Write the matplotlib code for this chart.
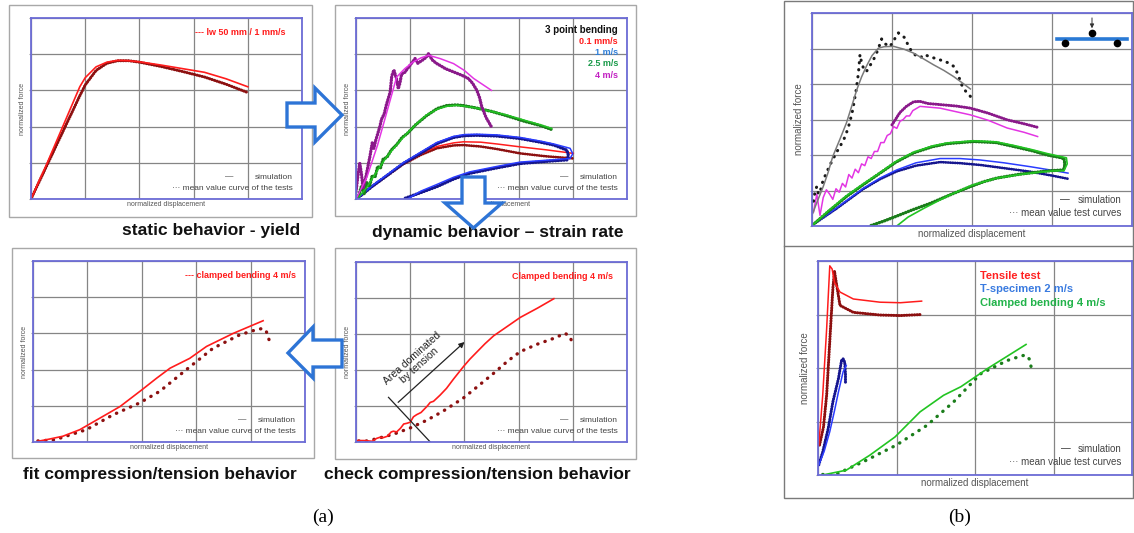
import numpy as np
import matplotlib
matplotlib.use("Agg")
import matplotlib.pyplot as plt
from matplotlib.patches import Polygon, Rectangle

W, H = 1134, 533

# ---- data (normalized units) ----
# (a) top left: static behaviour
a1_x = [0, 0.3, 0.6, 0.9, 1.0, 1.2, 1.4, 1.6, 1.8, 2.0, 2.4, 2.8, 3.2, 3.6, 4.0]
a1_sim = [0, 1.0, 2.05, 3.1, 3.35, 3.65, 3.78, 3.83, 3.82, 3.79, 3.7, 3.6, 3.5, 3.32, 3.1]
a1_test = [0, 0.95, 1.9, 2.85, 3.15, 3.55, 3.75, 3.82, 3.82, 3.78, 3.66, 3.52, 3.37, 3.17, 2.94]

# (a) top right: 3 point bending at several rates
a2_mag_x = [0, 0.2, 0.4, 0.55, 0.75, 0.9, 1.06, 1.2, 1.34, 1.55, 1.8, 2.0, 2.17, 2.35, 2.5]
a2_mag_y = [0, 0.6, 1.5, 2.3, 3.37, 3.6, 3.79, 3.9, 3.97, 3.88, 3.74, 3.55, 3.33, 3.15, 3.0]
a2_pur_x = [0, 0.04, 0.07, 0.1, 0.13, 0.18, 0.22, 0.26, 0.3, 0.33, 0.36, 0.4, 0.44, 0.47,
            0.52, 0.56, 0.6, 0.63, 0.66, 0.7, 0.75, 0.78, 0.81, 0.84, 0.9, 0.95, 1.0, 1.05,
            1.09, 1.14, 1.18, 1.24, 1.3, 1.34, 1.4, 1.48, 1.55, 1.65, 1.8, 1.95, 2.07, 2.15,
            2.23, 2.28, 2.32, 2.4, 2.5]
a2_pur_y = [0.2, 0.7, 0.98, 0.7, 0.3, 0.6, 0.9, 1.2, 1.55, 1.4, 1.6, 1.8, 2.0, 2.2,
            2.35, 2.6, 2.8, 2.95, 3.4, 3.56, 3.3, 3.05, 3.2, 3.45, 3.5, 3.6, 3.7, 3.8,
            3.88, 3.75, 3.79, 3.85, 3.92, 4.02, 3.85, 3.75, 3.69, 3.6, 3.51, 3.42, 3.33, 3.2,
            3.0, 2.8, 2.55, 2.25, 1.99]
a2_gsim_x = [0.05, 0.2, 0.4, 0.57, 0.75, 0.94, 1.1, 1.3, 1.5, 1.67, 1.85, 1.98, 2.2, 2.5,
             2.78, 3.1, 3.4, 3.61]
a2_gsim_y = [0.05, 0.32, 0.8, 1.17, 1.5, 1.81, 2.05, 2.32, 2.48, 2.56, 2.59, 2.57, 2.52, 2.42,
             2.32, 2.18, 2.05, 1.95]
a2_gtest_x = [0.05, 0.1, 0.15, 0.2, 0.25, 0.3, 0.35, 0.4, 0.45, 0.5, 0.57, 0.65, 0.75, 0.85,
              0.94, 1.1, 1.3, 1.5, 1.67, 1.85, 1.98, 2.2, 2.5, 2.78, 3.1, 3.4, 3.61]
a2_gtest_y = [0.1, 0.35, 0.15, 0.45, 0.35, 0.65, 0.6, 0.9, 0.85, 1.1, 1.15, 1.35, 1.5, 1.7,
              1.8, 2.05, 2.3, 2.5, 2.58, 2.6, 2.58, 2.52, 2.42, 2.3, 2.15, 2.03, 1.92]
a2_btest_x = [0.05, 0.3, 0.6, 0.87, 1.2, 1.49, 1.8, 2.0, 2.23, 2.6, 3.03, 3.4, 3.65, 3.89,
              3.92, 3.89, 3.6, 3.03, 2.6, 2.1, 1.8, 1.49, 1.2, 0.87]
a2_btest_y = [0.05, 0.35, 0.68, 0.98, 1.27, 1.53, 1.7, 1.75, 1.76, 1.74, 1.67, 1.57, 1.49, 1.35,
              1.2, 1.08, 1.05, 0.98, 0.86, 0.71, 0.55, 0.34, 0.18, 0.0]
a2_bsim_x = [0.05, 0.3, 0.6, 0.87, 1.2, 1.49, 1.8, 2.0, 2.23, 2.6, 3.03, 3.4, 3.65, 3.95,
             4.0, 3.95, 3.6, 3.03, 2.6, 2.1, 1.8, 1.49, 1.2, 0.95]
a2_bsim_y = [0.05, 0.37, 0.7, 1.0, 1.3, 1.56, 1.73, 1.78, 1.79, 1.77, 1.7, 1.6, 1.52, 1.4,
             1.25, 1.12, 1.08, 1.02, 0.9, 0.75, 0.6, 0.4, 0.22, 0.0]
a2_red_x = [0.05, 0.3, 0.6, 0.87, 1.2, 1.49, 1.8, 1.98, 2.3, 2.6, 3.03, 3.5, 4.01]
a2_rsim_y = [0.05, 0.35, 0.68, 0.98, 1.25, 1.45, 1.55, 1.58, 1.57, 1.52, 1.44, 1.36, 1.26]
a2_rtest_y = [0.05, 0.35, 0.67, 0.96, 1.22, 1.4, 1.48, 1.49, 1.45, 1.38, 1.26, 1.18, 1.12]
a2_labels = ["3 point bending", "0.1 mm/s", "1 m/s", "2.5 m/s", "4 m/s"]

# (a) bottom left: fitted clamped bending
a3_sim_x = [0.09, 0.3, 0.55, 0.86, 1.23, 1.6, 2.0, 2.27, 2.52, 2.88, 3.19, 3.68, 4.23]
a3_sim_y = [0.02, 0.08, 0.16, 0.34, 0.66, 0.98, 1.44, 1.76, 2.04, 2.31, 2.64, 3.0, 3.35]
a3_test_x = [0.09, 0.4, 0.98, 1.47, 1.96, 2.33, 2.82, 3.31, 3.8, 4.1, 4.23, 4.29, 4.34]
a3_test_y = [0.03, 0.06, 0.34, 0.75, 1.08, 1.4, 2.0, 2.59, 2.96, 3.1, 3.14, 3.05, 2.82]

# (a) bottom right: first check of clamped bending
a4_sim_x = [0.02, 0.15, 0.3, 0.38, 0.44, 0.5, 0.58, 0.65, 0.69, 0.75, 0.82, 0.88, 0.94, 1.0,
            1.06, 1.12, 1.2, 1.31, 1.37, 1.43, 1.55, 1.67, 1.8, 1.98, 2.1, 2.23, 2.38, 2.54,
            2.8, 3.03, 3.35, 3.65]
a4_sim_y = [0.04, 0.04, 0.02, 0.1, 0.13, 0.12, 0.16, 0.28, 0.3, 0.28, 0.38, 0.5, 0.52, 0.55,
            0.7, 0.76, 0.82, 0.99, 1.1, 1.13, 1.3, 1.49, 1.75, 2.09, 2.3, 2.5, 2.73, 2.95,
            3.22, 3.46, 3.72, 3.98]
a4_test_x = [0.05, 0.2, 0.35, 0.5, 0.7, 1.0, 1.3, 1.6, 1.98, 2.25, 2.54, 2.8, 3.03, 3.35,
             3.65, 3.86, 3.95, 4.0]
a4_test_y = [0.03, 0.03, 0.08, 0.14, 0.22, 0.39, 0.6, 0.85, 1.22, 1.55, 1.91, 2.25, 2.51, 2.72,
             2.88, 3.02, 2.92, 2.71]

# (b) top: 3 point bending
b1_gsim_x = [0.01, 0.05, 0.14, 0.2, 0.26, 0.35, 0.43, 0.5, 0.56, 0.62, 0.68, 0.75, 0.83, 0.9,
             1.02, 1.15, 1.27, 1.4, 1.52, 1.65, 1.77, 1.88, 1.98]
b1_gsim_y = [0.36, 0.6, 1.11, 1.5, 1.96, 2.45, 2.9, 3.4, 3.84, 4.2, 4.5, 4.8, 5.01, 5.05,
             5.06, 4.98, 4.87, 4.7, 4.54, 4.38, 4.21, 4.03, 3.86]
b1_ktest_x = [0.02, 0.04, 0.06, 0.08, 0.1, 0.14, 0.18, 0.22, 0.26, 0.3, 0.35, 0.4, 0.43, 0.47,
              0.51, 0.55, 0.58, 0.6, 0.62, 0.65, 0.68, 0.72, 0.76, 0.79, 0.83, 0.87, 0.9, 0.93,
              0.97, 1.02, 1.05, 1.08, 1.12, 1.16, 1.2, 1.25, 1.31, 1.36, 1.4, 1.5, 1.6, 1.7,
              1.77, 1.82, 1.87, 1.92, 1.98]
b1_ktest_y = [0.7, 1.0, 1.11, 0.9, 0.95, 1.3, 1.49, 1.7, 1.87, 2.05, 2.24, 2.45, 2.62, 2.9,
              3.28, 3.8, 4.3, 4.83, 4.6, 4.4, 4.35, 4.5, 4.65, 4.78, 5.0, 5.27, 5.15, 5.11,
              5.05, 5.2, 5.35, 5.44, 5.38, 5.3, 5.1, 4.9, 4.78, 4.75, 4.83, 4.75, 4.68, 4.6,
              4.5, 4.3, 3.98, 3.8, 3.65]
b1_msim_x = [0.02, 0.06, 0.1, 0.14, 0.18, 0.22, 0.26, 0.3, 0.34, 0.38, 0.42, 0.46, 0.5, 0.54,
             0.58, 0.62, 0.66, 0.7, 0.74, 0.78, 0.82, 0.86, 0.9, 0.94, 0.98, 1.02, 1.06, 1.1,
             1.14, 1.18, 1.22, 1.26, 1.35, 1.45, 1.6, 1.8, 1.98, 2.2, 2.44, 2.65, 2.82]
b1_msim_y = [0.4, 0.9, 0.3, 0.8, 1.02, 0.9, 0.75, 1.05, 0.95, 1.2, 1.1, 1.45, 1.35, 1.6,
             1.5, 1.75, 1.7, 1.95, 1.9, 2.1, 2.1, 2.35, 2.35, 2.55, 2.6, 2.8, 2.75, 2.95,
             3.0, 3.1, 3.1, 3.25, 3.37, 3.35, 3.32, 3.22, 3.13, 2.98, 2.76, 2.64, 2.52]
b1_ptest_x = [1.0, 1.1, 1.18, 1.27, 1.35, 1.45, 1.6, 1.8, 1.98, 2.2, 2.44, 2.65, 2.82]
b1_ptest_y = [2.85, 3.2, 3.37, 3.5, 3.51, 3.45, 3.42, 3.38, 3.32, 3.18, 2.99, 2.88, 2.78]
b1_gtest_x = [0.02, 0.2, 0.43, 0.65, 0.85, 1.05, 1.27, 1.5, 1.69, 2.02, 2.3, 2.52, 2.75, 2.94,
              3.1, 3.15, 3.16, 3.15, 3.0, 2.86, 2.6, 2.31, 2.15, 1.98, 1.75, 1.48, 1.25, 1.06,
              0.9, 0.72]
b1_gtest_y = [0.05, 0.4, 0.83, 1.18, 1.49, 1.8, 2.06, 2.23, 2.32, 2.38, 2.35, 2.24, 2.12, 2.0,
              1.93, 1.9, 1.75, 1.58, 1.56, 1.53, 1.46, 1.35, 1.25, 1.11, 0.9, 0.64, 0.45, 0.28,
              0.14, 0.0]
b1_grsim_x = [0.02, 0.2, 0.43, 0.65, 0.85, 1.05, 1.27, 1.5, 1.69, 2.02, 2.3, 2.52, 2.75, 2.94,
              3.1, 3.18, 3.19, 3.15, 3.0, 2.86, 2.6, 2.31, 2.0, 1.7, 1.4, 1.2, 1.06]
b1_grsim_y = [0.05, 0.42, 0.85, 1.2, 1.5, 1.82, 2.08, 2.25, 2.34, 2.4, 2.37, 2.27, 2.15, 2.04,
              1.96, 1.92, 1.75, 1.56, 1.55, 1.52, 1.45, 1.35, 1.15, 0.85, 0.5, 0.25, 0.0]
b1_blue_x = [0.02, 0.3, 0.64, 0.85, 1.06, 1.3, 1.6, 1.85, 2.1, 2.4, 2.73, 3.0, 3.2]
b1_bsim_y = [0.05, 0.5, 1.06, 1.35, 1.58, 1.78, 1.9, 1.9, 1.86, 1.78, 1.67, 1.57, 1.49]
b1_btest_y = [0.05, 0.48, 1.04, 1.32, 1.54, 1.7, 1.8, 1.77, 1.72, 1.63, 1.53, 1.42, 1.33]

# (b) bottom: tensile, T-specimen, clamped bending
b2_rsim_x = [0.01, 0.06, 0.11, 0.15, 0.18, 0.21, 0.28, 0.45, 0.79, 1.05, 1.32]
b2_rsim_y = [0.56, 1.49, 2.73, 3.91, 3.85, 3.6, 3.42, 3.29, 3.23, 3.22, 3.25]
b2_rtest_x = [0.02, 0.07, 0.11, 0.15, 0.19, 0.21, 0.24, 0.28, 0.45, 0.79, 1.05, 1.32]
b2_rtest_y = [0.56, 0.9, 1.49, 2.5, 3.5, 3.81, 3.53, 3.17, 3.04, 2.99, 2.98, 3.0]
b2_bsim_x = [0.01, 0.08, 0.15, 0.21, 0.26, 0.32, 0.36]
b2_bsim_y = [0.19, 0.45, 0.81, 1.2, 1.55, 1.93, 2.05]
b2_btest_x = [0.01, 0.06, 0.13, 0.19, 0.26, 0.3, 0.32, 0.34, 0.35, 0.35]
b2_btest_y = [0.19, 0.43, 0.87, 1.37, 1.8, 2.14, 2.17, 2.11, 1.89, 1.72]
b2_gsim_x = [0.06, 0.36, 0.66, 0.98, 1.3, 1.6, 1.82, 2.16, 2.65]
b2_gsim_y = [0.0, 0.09, 0.37, 0.71, 1.18, 1.49, 1.65, 1.99, 2.44]
b2_gtest_x = [0.06, 0.21, 0.58, 1.0, 1.39, 1.73, 2.07, 2.41, 2.6, 2.65, 2.69, 2.72]
b2_gtest_y = [0.01, 0.0, 0.25, 0.56, 0.93, 1.37, 1.89, 2.14, 2.23, 2.24, 2.17, 1.99]
b2_labels = ["Tensile test", "T-specimen 2 m/s", "Clamped bending 4 m/s"]

titles = ["static behavior - yield", "dynamic behavior \u2013 strain rate",
          "fit compression/tension behavior", "check compression/tension behavior"]

RED, DRED = "#ff1c1c", "#8c1010"
MAG, PURP = "#e335e3", "#8a1a8a"
GRN, DGRN = "#22c422", "#1b7d1b"
BLU, DBLU = "#2a3cff", "#16168e"
DOTS = (0, (0.1, 0.75))
SPARSE = (0, (0.1, 2.2))

plt.rcParams["font.family"] = ["Liberation Sans", "DejaVu Sans"]
fig = plt.figure(figsize=(W / 100, H / 100), dpi=100)

bg = fig.add_axes([0, 0, 1, 1], zorder=-5)
bg.set_xlim(0, W); bg.set_ylim(H, 0); bg.axis("off")


def panel(x0, y0, x1, y1, nx, ny, big=False):
    ax = fig.add_axes([x0 / W, 1 - y1 / H, (x1 - x0) / W, (y1 - y0) / H])
    ax.set_xlim(0, nx); ax.set_ylim(0, ny)
    ax.set_xticks(range(nx + 1)); ax.set_yticks(range(ny + 1))
    ax.grid(True, color="#858585", lw=0.9)
    ax.tick_params(labelbottom=False, labelleft=False, bottom=False, left=True,
                   length=1.5, color="#999999")
    for s in ax.spines.values():
        s.set_color("#6c6cd6"); s.set_linewidth(1.3)
    fs = 7 if big else 5
    ax.set_xlabel("normalized displacement", fontsize=fs, color="#555555", labelpad=2 if big else 1.5)
    ax.set_ylabel("normalized force", fontsize=fs, color="#555555", labelpad=4 if big else 2)
    return ax


def legend_text(ax, second, fs, xdash):
    ax.text(0.967, 0.12, "simulation", transform=ax.transAxes, ha="right", va="center",
            fontsize=fs, color="#444444")
    ax.text(xdash, 0.125, "\u2014", transform=ax.transAxes, ha="center", va="center",
            fontsize=fs, color="#333333")
    ax.text(0.967, 0.06, "\u00b7\u00b7\u00b7 " + second, transform=ax.transAxes, ha="right",
            va="center", fontsize=fs, color="#444444")


# frames
for (x0, y0, x1, y1) in [(9, 5, 312, 217), (335, 5, 636, 216), (12, 248, 314, 458), (335, 248, 636, 459)]:
    bg.add_patch(Rectangle((x0, y0), x1 - x0, y1 - y0, fill=False, ec="#a8a8a8", lw=1))
bg.add_patch(Rectangle((784, 0.5), 349, 497, fill=False, ec="#7a7a7a", lw=1))
bg.plot([784, 1133], [246, 246], color="#7a7a7a", lw=1)

# panel titles
for (cx, cy), t in zip([(211, 230), (498, 232), (160, 475), (477, 475)], titles):
    bg.text(cx, cy, t, ha="center", va="center", fontsize=12.5, fontweight="bold", color="#111111")
bg.text(323, 517, "(a)", ha="center", va="center", fontsize=14, family="Liberation Serif")
bg.text(960, 517, "(b)", ha="center", va="center", fontsize=14, family="Liberation Serif")

# ---- (a) top left ----
ax = panel(31, 18, 302, 199, 5, 5)
ax.plot(a1_x, a1_test, color=DRED, lw=2.2, ls=DOTS, dash_capstyle="round")
ax.plot(a1_x, a1_sim, color=RED, lw=1.2)
ax.text(0.94, 0.92, "--- lw 50 mm / 1 mm/s", transform=ax.transAxes, ha="right", va="center",
        fontsize=6.5, fontweight="bold", color=RED)
legend_text(ax, "mean value curve of the tests", 6, 0.73)

# ---- (a) top right ----
ax = panel(356, 18, 627, 199, 5, 5)
ax.plot(a2_red_x, a2_rtest_y, color=DRED, lw=2, ls=DOTS, dash_capstyle="round")
ax.plot(a2_red_x, a2_rsim_y, color=RED, lw=1.1)
ax.plot(a2_btest_x, a2_btest_y, color=DBLU, lw=2.4, ls=DOTS, dash_capstyle="round")
ax.plot(a2_bsim_x, a2_bsim_y, color=BLU, lw=1.1)
ax.plot(a2_gtest_x, a2_gtest_y, color=DGRN, lw=2.4, ls=DOTS, dash_capstyle="round")
ax.plot(a2_gsim_x, a2_gsim_y, color=GRN, lw=1.1)
ax.plot(a2_pur_x, a2_pur_y, color=PURP, lw=2.4, ls=DOTS, dash_capstyle="round")
ax.plot(a2_mag_x, a2_mag_y, color=MAG, lw=1.1)
for i, (lab, col) in enumerate(zip(a2_labels, ["#111111", RED, "#2f7fd8", "#1a9a4a", "#c21fc2"])):
    ax.text(0.967, 0.935 - i * 0.063, lab, transform=ax.transAxes, ha="right", va="center",
            fontsize=7 if i == 0 else 6.5, fontweight="bold", color=col)
legend_text(ax, "mean value curve of the tests", 6, 0.77)

# ---- (a) bottom left ----
ax = panel(33, 261, 305, 442, 5, 5)
ax.plot(a3_test_x, a3_test_y, color=DRED, lw=2.4, ls=SPARSE, dash_capstyle="round")
ax.plot(a3_sim_x, a3_sim_y, color=RED, lw=1.2)
ax.text(0.967, 0.92, "--- clamped bending 4 m/s", transform=ax.transAxes, ha="right", va="center",
        fontsize=6.5, fontweight="bold", color=RED)
legend_text(ax, "mean value curve of the tests", 6, 0.77)

# ---- (a) bottom right ----
ax = panel(356, 262, 627, 442, 5, 5)
ax.plot(a4_test_x, a4_test_y, color=DRED, lw=2.4, ls=SPARSE, dash_capstyle="round")
ax.plot(a4_sim_x, a4_sim_y, color=RED, lw=1.2)
ax.plot([0.6, 1.37], [1.24, 0.0], color="#222222", lw=0.9)
ax.annotate("", xy=(2.04, 2.83), xytext=(0.74, 1.05),
            arrowprops=dict(arrowstyle="-|>", color="#222222", lw=0.9, mutation_scale=8))
ax.text(1.1, 2.22, "Area dominated\nby tension", rotation=42, ha="center", va="center",
        fontsize=7.5, color="#222222", linespacing=1.0)
ax.text(0.95, 0.92, "Clamped bending 4 m/s", transform=ax.transAxes, ha="right", va="center",
        fontsize=6.5, fontweight="bold", color=RED)
legend_text(ax, "mean value curve of the tests", 6, 0.77)

# ---- (b) top ----
ax = panel(812, 13, 1132, 226, 4, 6, big=True)
ax.plot(b1_blue_x, b1_btest_y, color=DBLU, lw=2, ls=DOTS, dash_capstyle="round")
ax.plot(b1_blue_x, b1_bsim_y, color=BLU, lw=1.1)
ax.plot(b1_gtest_x, b1_gtest_y, color=DGRN, lw=2.4, ls=DOTS, dash_capstyle="round")
ax.plot(b1_grsim_x, b1_grsim_y, color=GRN, lw=1.2)
ax.plot(b1_ptest_x, b1_ptest_y, color=PURP, lw=2.2, ls=DOTS, dash_capstyle="round")
ax.plot(b1_msim_x, b1_msim_y, color=MAG, lw=1.1)
ax.plot(b1_ktest_x, b1_ktest_y, color="#1a1a1a", lw=2.2, ls=SPARSE, dash_capstyle="round")
ax.plot(b1_gsim_x, b1_gsim_y, color="#7a7a7a", lw=1.1)
# beam icon
ax.plot([0.766, 0.984], [0.88, 0.88], transform=ax.transAxes, color="#2a7ad5", lw=2.6)
ax.plot([0.79, 0.953], [0.859, 0.859], "o", transform=ax.transAxes, color="black", ms=4.5)
ax.plot([0.875], [0.905], "o", transform=ax.transAxes, color="black", ms=4.5)
ax.annotate("", xy=(0.875, 0.915), xytext=(0.875, 0.99), xycoords="axes fraction",
            arrowprops=dict(arrowstyle="-|>", color="#333333", lw=0.7, mutation_scale=6))
legend_text(ax, "mean value test curves", 7, 0.79)

# ---- (b) bottom ----
ax = panel(818, 261, 1132, 475, 4, 4, big=True)
ax.plot(b2_rtest_x, b2_rtest_y, color=DRED, lw=2.2, ls=DOTS, dash_capstyle="round")
ax.plot(b2_rsim_x, b2_rsim_y, color=RED, lw=1.1)
ax.plot(b2_btest_x, b2_btest_y, color=DBLU, lw=2.2, ls=DOTS, dash_capstyle="round")
ax.plot(b2_bsim_x, b2_bsim_y, color=BLU, lw=1.1)
ax.plot(b2_gtest_x, b2_gtest_y, color=DGRN, lw=2.4, ls=SPARSE, dash_capstyle="round")
ax.plot(b2_gsim_x, b2_gsim_y, color=GRN, lw=1.2)
for i, (lab, col) in enumerate(zip(b2_labels, ["#ff2020", "#3a7be0", "#22b34a"])):
    ax.text(0.516, 0.93 - i * 0.063, lab, transform=ax.transAxes, ha="left", va="center",
            fontsize=8, fontweight="bold", color=col)
legend_text(ax, "mean value test curves", 7, 0.79)

# ---- block arrows on top ----
fg = fig.add_axes([0, 0, 1, 1], zorder=20)
fg.set_xlim(0, W); fg.set_ylim(H, 0); fg.axis("off"); fg.patch.set_alpha(0)
arrows = [
    [(287, 103), (315, 103), (315, 88), (342, 115), (315, 142), (315, 127), (287, 127)],
    [(462, 177), (485, 177), (485, 203), (502, 203), (473.5, 228), (445, 203), (462, 203)],
    [(342, 340), (313, 340), (313, 327), (288, 353), (313, 378), (313, 367), (342, 367)],
]
for pts in arrows:
    fg.add_patch(Polygon(pts, closed=True, fc="white", ec="#2d74d6", lw=2.4, joinstyle="miter"))

fig.savefig("out.png", dpi=100)
